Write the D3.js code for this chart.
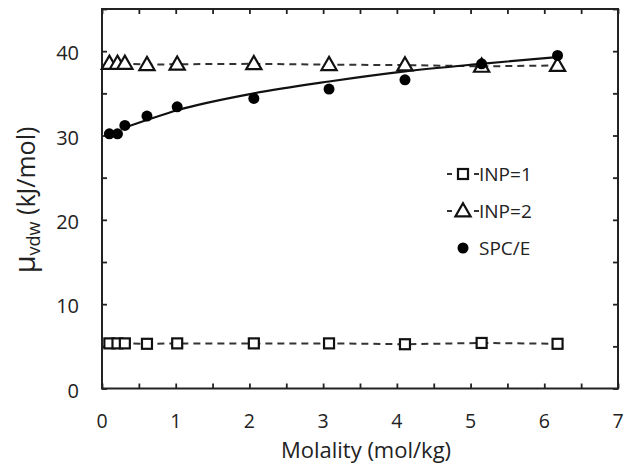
<!DOCTYPE html>
<html>
<head>
<meta charset="utf-8">
<script src="https://cdn.jsdelivr.net/npm/d3@7"></script>
<style>
  body { margin: 0; background: #fff; }
  svg { display: block; }
  text { font-family: "Open Sans", sans-serif; fill: #222; }
</style>
</head>
<body>
<div id="chart"></div>
<script>
// molality (mol/kg) of each simulated state
var molality = [0.1, 0.21, 0.31, 0.61, 1.02, 2.06, 3.08, 4.11, 5.15, 6.18];
// mu_vdw values (kJ/mol)
var inp1 = [5.35, 5.35, 5.35, 5.3, 5.35, 5.35, 5.35, 5.25, 5.4, 5.3];
var inp2 = [38.55, 38.55, 38.55, 38.4, 38.45, 38.5, 38.4, 38.35, 38.2, 38.3];
var spce = [30.2, 30.2, 31.2, 32.3, 33.4, 34.4, 35.5, 36.6, 38.5, 39.5];
// fitted curve through SPC/E
var fitX = [0.33, 1.02, 2.06, 3.08, 4.11, 5.14, 6.17];
var fitY = [31.0, 33.0, 35.0, 36.4, 37.6, 38.5, 39.3];

var xTicks = [0, 1, 2, 3, 4, 5, 6, 7];
var yTicks = [0, 10, 20, 30, 40];
var legendNames = ["INP=1", "INP=2", "SPC/E"];

var W = 632, H = 471;
var margin = {left: 102, right: 14, top: 9, bottom: 82.5};

var svg = d3.select("#chart").append("svg")
    .attr("width", W).attr("height", H);

var x = d3.scaleLinear().domain([0, 7]).range([margin.left, W - margin.right]);
var y = d3.scaleLinear().domain([0, 45]).range([H - margin.bottom, margin.top]);

var minorX = d3.range(0, 7.01, 0.5), minorY = d3.range(0, 45.01, 5);

// inward ticks on all four sides
var tk = 5;
svg.append("g").attr("transform", "translate(0," + y(0) + ")")
    .call(d3.axisTop(x).tickValues(minorX).tickSize(tk).tickFormat(""));
svg.append("g").attr("transform", "translate(0," + y(45) + ")")
    .call(d3.axisBottom(x).tickValues(minorX).tickSize(tk).tickFormat(""));
svg.append("g").attr("transform", "translate(" + x(0) + ",0)")
    .call(d3.axisRight(y).tickValues(minorY).tickSize(tk).tickFormat(""));
svg.append("g").attr("transform", "translate(" + x(7) + ",0)")
    .call(d3.axisLeft(y).tickValues(minorY).tickSize(tk).tickFormat(""));
svg.selectAll(".domain").remove();
svg.selectAll(".tick line").attr("stroke", "#222").attr("stroke-width", 1.8);

svg.append("rect")
    .attr("x", x(0)).attr("y", y(45))
    .attr("width", x(7) - x(0)).attr("height", y(0) - y(45))
    .attr("fill", "none").attr("stroke", "#222").attr("stroke-width", 2);

// tick labels
svg.selectAll(".xl").data(xTicks).enter().append("text")
    .attr("x", d => x(d)).attr("y", y(0) + 39.5)
    .attr("text-anchor", "middle").attr("font-size", 19.5)
    .text(d => d);
svg.selectAll(".yl").data(yTicks).enter().append("text")
    .attr("x", x(0) - 23).attr("y", d => y(d) + 9)
    .attr("text-anchor", "end").attr("font-size", 20)
    .text(d => d);

svg.append("text")
    .attr("x", (x(0) + x(7)) / 2 + 6).attr("y", 458)
    .attr("text-anchor", "middle").attr("font-size", 22)
    .text("Molality (mol/kg)");

var yl = svg.append("text")
    .attr("transform", "translate(35,200) rotate(-90)")
    .attr("text-anchor", "middle").attr("font-size", 25);
yl.append("tspan").attr("font-size", 29).text("\u03bc");
yl.append("tspan").attr("font-size", 18).attr("dy", 5).text("vdw");
yl.append("tspan").attr("dy", -5).text(" (kJ/mol)");

// series lines
var dash = d3.line().x((d, i) => x(molality[i])).y(d => y(d));
[inp1, inp2].forEach(function(s) {
  svg.append("path").datum(s)
      .attr("d", dash)
      .attr("fill", "none").attr("stroke", "#333")
      .attr("stroke-width", 2).attr("stroke-dasharray", "7,5");
});

var fit = d3.line().x(d => x(d[0])).y(d => y(d[1])).curve(d3.curveMonotoneX);
svg.append("path").datum(d3.zip(fitX, fitY))
    .attr("d", fit)
    .attr("fill", "none").attr("stroke", "#111").attr("stroke-width", 2.2);

// markers
var sq = 10, tri = d3.symbol().type(d3.symbolTriangle).size(100);
svg.selectAll(".sq").data(inp1).enter().append("rect")
    .attr("x", (d, i) => x(molality[i]) - sq / 2).attr("y", d => y(d) - sq / 2)
    .attr("width", sq).attr("height", sq)
    .attr("fill", "#fff").attr("stroke", "#111").attr("stroke-width", 2.2);
svg.selectAll(".tri").data(inp2).enter().append("path")
    .attr("d", tri)
    .attr("transform", (d, i) => "translate(" + x(molality[i]) + "," + (y(d) + 1) + ")")
    .attr("fill", "#fff").attr("stroke", "#111").attr("stroke-width", 2.2);
svg.selectAll(".dot").data(spce).enter().append("circle")
    .attr("cx", (d, i) => x(molality[i])).attr("cy", d => y(d))
    .attr("r", 5.5).attr("fill", "#000");

// legend
var lg = svg.append("g");
var rowY = [174, 211, 248];
legendNames.forEach(function(n, i) {
  var cy = rowY[i], cx = 463;
  if (i < 2) {
    lg.append("line").attr("x1", cx - 16).attr("x2", cx + 16)
        .attr("y1", cy).attr("y2", cy)
        .attr("stroke", "#333").attr("stroke-width", 2).attr("stroke-dasharray", "5,22");
  }
  if (i == 0) {
    lg.append("rect").attr("x", cx - sq / 2).attr("y", cy - sq / 2)
        .attr("width", sq).attr("height", sq)
        .attr("fill", "#fff").attr("stroke", "#111").attr("stroke-width", 2.2);
  } else if (i == 1) {
    lg.append("path").attr("d", tri).attr("transform", "translate(" + cx + "," + (cy + 1) + ")")
        .attr("fill", "#fff").attr("stroke", "#111").attr("stroke-width", 2.2);
  } else {
    lg.append("circle").attr("cx", cx).attr("cy", cy).attr("r", 5.5).attr("fill", "#000");
  }
  lg.append("text").attr("x", 479).attr("y", cy + 7)
      .attr("font-size", 19).text(n);
});
</script>
</body>
</html>
